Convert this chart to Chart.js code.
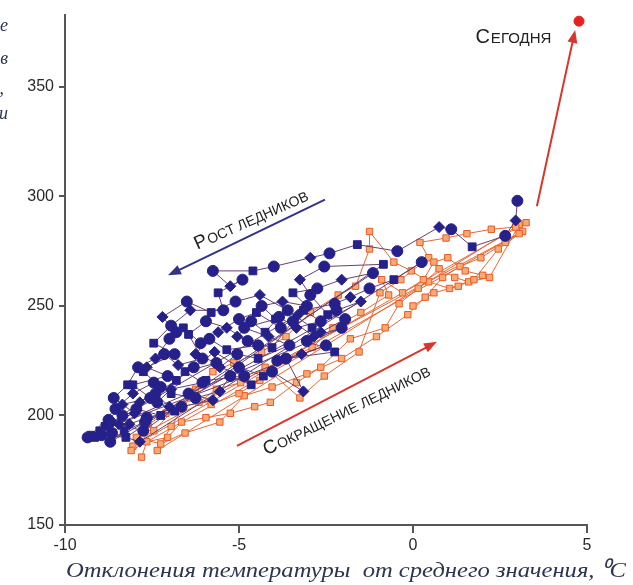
<!DOCTYPE html>
<html lang="ru">
<head>
  <meta charset="utf-8">
  <title>CO2 и температура</title>
  <style>
    body { margin: 0; background: #fff; }
  </style>
</head>
<body>
  <canvas id="myChart" width="633" height="585"></canvas>
  <script src="https://cdn.jsdelivr.net/npm/chart.js"></script>
  <script>
    // ось X: отклонение температуры, ось Y: CO2
    const xTicks = [-10, -5, 0, 5]
    const yTicks = [150, 200, 250, 300, 350]

    // рост ледников (синие точки)
    const growthX = [
      3.0, 2.95, 2.65, 1.7, 1.1, 0.75, -0.45, -1.6, -2.4, -2.95, -4.0, -4.6, -5.75, -5.25, -4.9, -5.6, -5.45, -6.4, -6.95, -7.45, -6.85, -7.65, -7.05, -8.05, -7.55, -8.35, -8.75, -9.15, -8.65, -7.85,
      0.25, -0.55, -1.25, -1.8, -2.25, -3.15, -2.65, -3.35, -3.85, -4.25, -4.65, -5.05, -4.45, -5.35, -5.85, -6.25, -5.65, -6.55, -6.05, -6.95, -7.35, -6.85, -7.65, -8.15, -8.95, -8.25,
      -1.15, -2.05, -2.75, -3.45, -3.05, -3.75, -4.35, -3.95, -4.85, -4.15, -3.55, -4.45, -5.05, -5.55, -4.85, -5.95, -6.45, -5.75, -6.65, -7.25, -7.95, -8.45, -7.75,
      -0.85, -2.55, -3.25, -2.95, -2.45, -1.95, -2.65, -3.05, -2.25, -3.65, -3.15, -4.05, -4.65, -5.25, -5.55, -6.25, -6.95, -7.45, -8.05, -8.55, -9.25,
      -2.05, -2.85, -3.45, -4.05, -4.75, -5.35, -5.95, -6.45, -6.05, -6.75, -7.15, -7.75, -7.25, -7.85, -8.35, -8.85, -9.35,
      -3.3, -3.8, -4.5, -5.0, -5.6, -6.1, -6.6, -7.0, -7.4, -7.9, -8.2, -8.6, -8.0, -8.7, -9.0,
      -2.5, -3.2, -3.9, -4.3, -5.0, -5.7, -6.3, -6.8, -7.4, -7.0, -7.7, -8.3, -8.7,
      -1.5, -2.2, -2.9, -3.6, -4.4, -5.1, -5.8, -6.5, -7.2, -6.8
    ]
    const growthY = [
      298, 289, 282, 277, 285, 286, 275, 278, 274, 272, 268, 266, 266, 259, 262, 256, 248, 248, 241, 233, 228, 222, 218, 214, 208, 205, 198, 190, 192, 188,
      270, 262, 258, 254, 251, 248, 243, 240, 245, 238, 243, 236, 232, 230, 235, 228, 224, 220, 215, 212, 206, 202, 199, 196, 191, 190,
      265, 262, 258, 256, 250, 252, 250, 244, 240, 236, 232, 226, 228, 222, 218, 216, 210, 207, 204, 200, 203, 196, 193,
      269, 268, 262, 255, 246, 244, 238, 234, 229, 226, 211, 220, 214, 218, 211, 208, 210, 215, 210, 203, 191,
      240, 236, 243, 231, 234, 240, 243, 237, 226, 223, 228, 220, 213, 206, 200, 195, 190,
      246, 240, 247, 244, 238, 233, 240, 235, 226, 222, 214, 208, 201, 197, 193,
      232, 228, 225, 218, 222, 229, 222, 216, 210, 204, 197, 193, 188,
      252, 248, 240, 248, 255, 252, 247, 252, 245, 238
    ]

    // сокращение ледников (оранжевые квадраты)
    const retreatX = [
      -7.8, -7.65, -7.05, -6.65, -5.95, -5.25, -4.55, -4.1, -3.35, -2.65, -1.8, -0.8, -0.4, 0.15, 0.75, 1.2, 1.6, 2.2, 3.05, 3.25,
      -8.05, -7.45, -6.85, -6.15, -5.65, -4.95, -4.25, -3.25, -2.55, -1.55, -0.95, -0.35, 0.45, 0.2, 0.95, 1.55, 2.25, 2.95,
      -7.35, -6.95, -6.25, -5.75, -5.15, -4.35, -3.65, -2.95, -2.15, -1.65, -1.25, -1.25, -0.55, -0.05, 0.45, 1.05, 1.75, 2.45, 3.15,
      -7.95, -7.25, -6.55, -5.55, -4.85, -4.05, -3.05, -2.05, -1.05, -0.15, 0.35, 0.85, 1.35, 1.95, 2.65, 3.05,
      -8.1, -7.6, -7.1, -6.4, -5.8, -5.0, -4.4, -3.7, -2.9, -2.3, -1.5, -0.7,
      -0.9, -0.3, 0.3, 0.6, 1.0, 1.5, 2.0, 1.3, 0.6, 0.0
    ]
    const retreatY = [
      181, 188, 190, 197, 199, 201, 204, 206, 215, 222, 235, 240, 251, 258, 267, 263, 261, 263, 287, 288,
      186, 193, 203, 206, 212, 215, 222, 208, 218, 229, 256, 262, 272, 279, 281, 283, 285, 286,
      184, 195, 212, 220, 224, 229, 236, 247, 255, 259, 276, 284, 270, 266, 261, 258, 262, 276, 284,
      190, 187, 192, 197, 209, 213, 219, 226, 236, 246, 254, 263, 268, 272, 279, 283,
      184, 196, 201, 208, 205, 210, 216, 225, 231, 240, 247, 255,
      262, 256, 262, 270, 272, 266, 264, 259, 256, 250
    ]

    // сегодня
    const todayX = [4.77]
    const todayY = [380]

    const toPoints = (xs, ys) => xs.map((x, i) => ({ x: x, y: ys[i] }))

    const bluePointStyles = ['circle', 'rectRot', 'circle', 'rect']

    const annotations = {
      id: 'annotations',
      beforeDraw(chart) {
        const c = chart.ctx
        c.save()
        c.fillStyle = '#fff'
        c.fillRect(0, 0, chart.width, chart.height)
        c.restore()
      },
      afterDraw(chart) {
        const c = chart.ctx
        const xs = chart.scales.x
        const ys = chart.scales.y
        const px = v => xs.getPixelForValue(v)
        const py = v => ys.getPixelForValue(v)

        function arrow(x1, y1, x2, y2, color) {
          const a = px(x1), b = py(y1), e = px(x2), f = py(y2)
          const ang = Math.atan2(f - b, e - a)
          c.save()
          c.strokeStyle = color
          c.fillStyle = color
          c.lineWidth = 2
          c.beginPath()
          c.moveTo(a, b)
          c.lineTo(e - 8 * Math.cos(ang), f - 8 * Math.sin(ang))
          c.stroke()
          c.beginPath()
          c.moveTo(e, f)
          c.lineTo(e - 13 * Math.cos(ang) + 5 * Math.sin(ang), f - 13 * Math.sin(ang) - 5 * Math.cos(ang))
          c.lineTo(e - 13 * Math.cos(ang) - 5 * Math.sin(ang), f - 13 * Math.sin(ang) + 5 * Math.cos(ang))
          c.closePath()
          c.fill()
          c.restore()
        }

        // капитель: первая буква крупнее
        function smallCaps(text, x, y, angle, big, small) {
          const first = text[0]
          const rest = text.slice(1).toUpperCase()
          c.save()
          c.translate(px(x), py(y))
          c.rotate(angle * Math.PI / 180)
          c.fillStyle = '#222'
          c.textBaseline = 'alphabetic'
          c.font = big + 'px "Liberation Sans", Arial, sans-serif'
          const w1 = c.measureText(first).width
          c.font = small + 'px "Liberation Sans", Arial, sans-serif'
          const w2 = c.measureText(rest).width
          const start = -(w1 + w2) / 2
          c.font = big + 'px "Liberation Sans", Arial, sans-serif'
          c.fillText(first, start, 0)
          c.font = small + 'px "Liberation Sans", Arial, sans-serif'
          c.fillText(rest, start + w1 + 1, 0)
          c.restore()
        }

        arrow(3.56, 295.5, 4.66, 376, 'rgb(215, 55, 45)')
        arrow(-2.53, 298.5, -7.04, 264, 'rgb(50, 50, 135)')
        arrow(-5.06, 186.1, 0.69, 233.6, 'rgb(215, 55, 45)')

        smallCaps('Сегодня', 2.87, 370, 0, 20, 15)
        smallCaps('Рост ледников', -4.6, 287, -24, 19, 14)
        smallCaps('Сокращение ледников', -1.85, 200, -26, 19, 14)

        // подпись оси X
        c.save()
        c.fillStyle = '#2c3550'
        c.font = 'italic 22px "Liberation Serif", "Times New Roman", serif'
        c.textBaseline = 'alphabetic'
        c.textAlign = 'left'
        const title = 'Отклонения температуры  от среднего значения, \u2070C'
        const tw = c.measureText(title).width
        c.translate(66, 577)
        c.scale(560 / tw, 1)
        c.fillText(title, 0, 0)
        c.restore()

        // обрезанная подпись слева
        c.save()
        c.fillStyle = '#2c3550'
        c.font = 'italic 18px "Liberation Serif", serif'
        c.textAlign = 'right'
        c.fillText('е', 8, 31)
        c.fillText('в', 8, 64)
        c.fillText(',', 4, 94)
        c.fillText('и', 8, 119)
        c.restore()
      }
    }

    function renderChart() {
      const ctx = document.getElementById('myChart')
      const myChart = new Chart(ctx, {
        type: 'scatter',
        data: {
          datasets: [
            {
              label: 'Сегодня',
              data: toPoints(todayX, todayY),
              backgroundColor: 'rgb(230, 35, 30)',
              borderColor: 'rgb(230, 35, 30)',
              pointRadius: 5,
              order: 0
            },
            {
              label: 'Рост ледников',
              data: toPoints(growthX, growthY),
              showLine: true,
              borderColor: 'rgb(105, 65, 110)',
              borderWidth: 1,
              backgroundColor: 'rgb(38, 33, 138)',
              pointBackgroundColor: 'rgb(38, 33, 138)',
              pointBorderColor: 'rgb(38, 33, 138)',
              pointBorderWidth: 1,
              pointRadius: 5.5,
              pointStyle: ctx => bluePointStyles[ctx.dataIndex % bluePointStyles.length],
              order: 1
            },
            {
              label: 'Сокращение ледников',
              data: toPoints(retreatX, retreatY),
              showLine: true,
              borderColor: 'rgb(228, 105, 55)',
              borderWidth: 1,
              pointStyle: 'rect',
              pointRadius: 4.5,
              pointBackgroundColor: 'rgb(248, 170, 115)',
              pointBorderColor: 'rgb(232, 90, 40)',
              pointBorderWidth: 1,
              order: 2
            }
          ]
        },
        options: {
          responsive: false,
          animation: false,
          layout: { padding: { top: 10, right: 46, left: 0, bottom: 0 } },
          plugins: {
            legend: { display: false },
            tooltip: { enabled: false }
          },
          scales: {
            x: {
              type: 'linear',
              min: -10,
              max: 5,
              afterFit: scale => { scale.height = 60 },
              afterBuildTicks: scale => { scale.ticks = xTicks.map(v => ({ value: v })) },
              grid: { drawOnChartArea: false, drawTicks: true, tickLength: 8, color: '#555', lineWidth: 2 },
              border: { display: true, color: '#555', width: 2 },
              ticks: { color: '#2a2a2a', padding: 3, font: { family: '"Liberation Sans", Arial, sans-serif', size: 16 } }
            },
            y: {
              type: 'linear',
              min: 150,
              max: 383,
              afterFit: scale => { scale.width = 65 },
              afterBuildTicks: scale => { scale.ticks = yTicks.map(v => ({ value: v })) },
              grid: { drawOnChartArea: false, drawTicks: true, tickLength: 6, color: '#555', lineWidth: 2 },
              border: { display: true, color: '#555', width: 2 },
              ticks: { color: '#2a2a2a', padding: 5, font: { family: '"Liberation Sans", Arial, sans-serif', size: 16 } }
            }
          }
        },
        plugins: [annotations]
      })
    }

    window.onload = renderChart
  </script>
</body>
</html>
